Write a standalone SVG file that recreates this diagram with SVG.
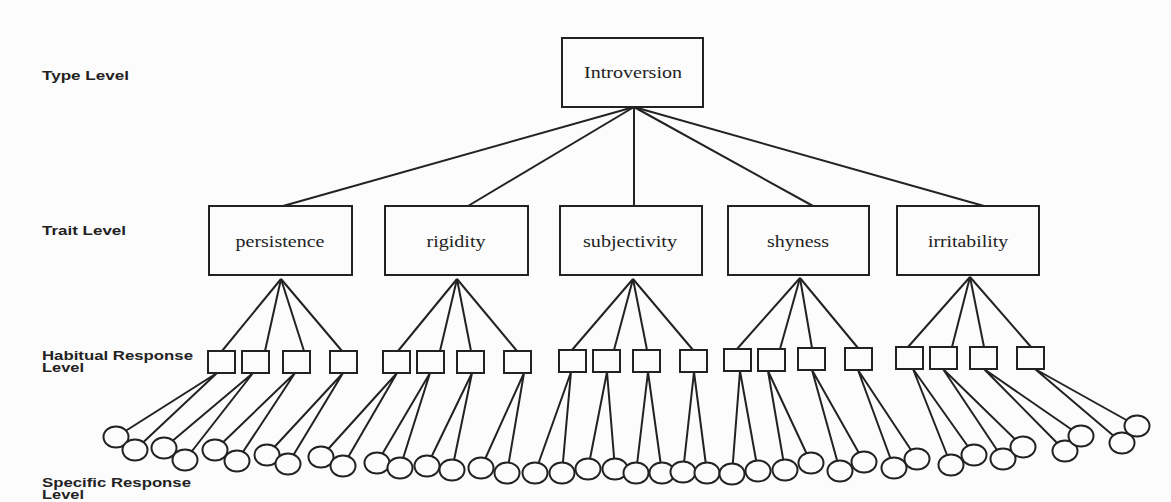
<svg xmlns="http://www.w3.org/2000/svg" width="1171" height="502" viewBox="0 0 1171 502">
<style>
.bg{fill:#fcfcfc}
.box{fill:#fcfcfc;stroke:#222;stroke-width:2}
.sq{fill:#fcfcfc;stroke:#222;stroke-width:2}
.cir{fill:#fcfcfc;stroke:#222;stroke-width:2}
.ln{stroke:#222;stroke-width:2;fill:none}
.lbl{font-family:"Liberation Sans",Arial,sans-serif;font-weight:bold;font-size:12px;fill:#222}
.nt{font-family:"Liberation Serif","Times New Roman",serif;font-size:17px;fill:#222;text-anchor:middle}
</style>
<rect class="bg" x="0" y="0" width="1171" height="502"/>
<g id="level-labels">
<text class="lbl" x="42" y="80" textLength="87" lengthAdjust="spacingAndGlyphs">Type Level</text>
<text class="lbl" x="42" y="235" textLength="84" lengthAdjust="spacingAndGlyphs">Trait Level</text>
<text class="lbl" x="42" y="360" textLength="151" lengthAdjust="spacingAndGlyphs">Habitual Response</text>
<text class="lbl" x="42" y="372" textLength="42" lengthAdjust="spacingAndGlyphs">Level</text>
<text class="lbl" x="42" y="487" textLength="149" lengthAdjust="spacingAndGlyphs">Specific Response</text>
<text class="lbl" x="42" y="499" textLength="42" lengthAdjust="spacingAndGlyphs">Level</text>
</g>
<g id="connectors" class="ln">
<line x1="634" y1="107" x2="283" y2="206"/>
<line x1="634" y1="107" x2="468" y2="206"/>
<line x1="634" y1="107" x2="634" y2="206"/>
<line x1="634" y1="107" x2="813" y2="206"/>
<line x1="634" y1="107" x2="984" y2="206"/>
<line x1="281" y1="279" x2="222" y2="351"/>
<line x1="281" y1="279" x2="265" y2="351"/>
<line x1="281" y1="279" x2="304" y2="351"/>
<line x1="281" y1="279" x2="342" y2="351"/>
<line x1="457" y1="279" x2="398" y2="351"/>
<line x1="457" y1="279" x2="440" y2="351"/>
<line x1="457" y1="279" x2="471" y2="351"/>
<line x1="457" y1="279" x2="517" y2="351"/>
<line x1="633" y1="279" x2="572" y2="350"/>
<line x1="633" y1="279" x2="614" y2="350"/>
<line x1="633" y1="279" x2="647" y2="350"/>
<line x1="633" y1="279" x2="693" y2="350"/>
<line x1="800" y1="278" x2="737" y2="349"/>
<line x1="800" y1="278" x2="780" y2="349"/>
<line x1="800" y1="278" x2="812" y2="348"/>
<line x1="800" y1="278" x2="858" y2="348"/>
<line x1="970" y1="277" x2="908" y2="347"/>
<line x1="970" y1="277" x2="952" y2="347"/>
<line x1="970" y1="277" x2="984" y2="347"/>
<line x1="970" y1="277" x2="1031" y2="347"/>
<path d="M217 373L116 437M217 373L135 450M253 373L164 448M253 373L185 460M295 373L215 450M295 373L237 461M343 373L267 455M343 373L288 464M397 373L321 457M397 373L343 466M430 373L377 463M430 373L400 468M472 373L427 466M472 373L452 470M524 373L481 468M524 373L507 473M571 372L535 473M571 372L562 473M607 372L588 469M607 372L615 469M648 372L636 473M648 372L662 473M694 372L683 472M694 372L707 473M740 371L732 474M740 371L758 471M768 371L785 470M768 371L811 463M812 370L840 471M812 370L864 462M858 370L894 468M858 370L917 459M913 369L951 465M913 369L974 455M943 369L1003 459M943 369L1023 447M984 369L1065 451M984 369L1081 436M1035 369L1122 443M1035 369L1137 426"/>
</g>
<g id="introversion"><rect class="box" x="562" y="38" width="141" height="69"/><text class="nt" x="633" y="78" textLength="98" lengthAdjust="spacingAndGlyphs">Introversion</text></g>
<g id="persistence"><rect class="box" x="209" y="206" width="143" height="69"/><text class="nt" x="280" y="247" textLength="89" lengthAdjust="spacingAndGlyphs">persistence</text></g>
<g id="rigidity"><rect class="box" x="385" y="206" width="143" height="69"/><text class="nt" x="456" y="247" textLength="59" lengthAdjust="spacingAndGlyphs">rigidity</text></g>
<g id="subjectivity"><rect class="box" x="560" y="206" width="142" height="69"/><text class="nt" x="630" y="247" textLength="94" lengthAdjust="spacingAndGlyphs">subjectivity</text></g>
<g id="shyness"><rect class="box" x="728" y="206" width="141" height="69"/><text class="nt" x="798" y="247" textLength="62" lengthAdjust="spacingAndGlyphs">shyness</text></g>
<g id="irritability"><rect class="box" x="897" y="206" width="142" height="69"/><text class="nt" x="968" y="247" textLength="80" lengthAdjust="spacingAndGlyphs">irritability</text></g>
<g id="habitual-responses">
<rect id="h1" class="sq" x="208" y="351" width="27" height="22"/>
<rect id="h2" class="sq" x="242" y="351" width="27" height="22"/>
<rect id="h3" class="sq" x="283" y="351" width="27" height="22"/>
<rect id="h4" class="sq" x="330" y="351" width="27" height="22"/>
<rect id="h5" class="sq" x="383" y="351" width="27" height="22"/>
<rect id="h6" class="sq" x="417" y="351" width="27" height="22"/>
<rect id="h7" class="sq" x="457" y="351" width="27" height="22"/>
<rect id="h8" class="sq" x="504" y="351" width="27" height="22"/>
<rect id="h9" class="sq" x="559" y="350" width="27" height="22"/>
<rect id="h10" class="sq" x="593" y="350" width="27" height="22"/>
<rect id="h11" class="sq" x="633" y="350" width="27" height="22"/>
<rect id="h12" class="sq" x="680" y="350" width="27" height="22"/>
<rect id="h13" class="sq" x="724" y="349" width="27" height="22"/>
<rect id="h14" class="sq" x="758" y="349" width="27" height="22"/>
<rect id="h15" class="sq" x="798" y="348" width="27" height="22"/>
<rect id="h16" class="sq" x="845" y="348" width="27" height="22"/>
<rect id="h17" class="sq" x="896" y="347" width="27" height="22"/>
<rect id="h18" class="sq" x="930" y="347" width="27" height="22"/>
<rect id="h19" class="sq" x="970" y="347" width="27" height="22"/>
<rect id="h20" class="sq" x="1017" y="347" width="27" height="22"/>
</g>
<g id="specific-responses">
<ellipse class="cir" cx="116" cy="437" rx="12.5" ry="10.5"/>
<ellipse class="cir" cx="135" cy="450" rx="12.5" ry="10.5"/>
<ellipse class="cir" cx="164" cy="448" rx="12.5" ry="10.5"/>
<ellipse class="cir" cx="185" cy="460" rx="12.5" ry="10.5"/>
<ellipse class="cir" cx="215" cy="450" rx="12.5" ry="10.5"/>
<ellipse class="cir" cx="237" cy="461" rx="12.5" ry="10.5"/>
<ellipse class="cir" cx="267" cy="455" rx="12.5" ry="10.5"/>
<ellipse class="cir" cx="288" cy="464" rx="12.5" ry="10.5"/>
<ellipse class="cir" cx="321" cy="457" rx="12.5" ry="10.5"/>
<ellipse class="cir" cx="343" cy="466" rx="12.5" ry="10.5"/>
<ellipse class="cir" cx="377" cy="463" rx="12.5" ry="10.5"/>
<ellipse class="cir" cx="400" cy="468" rx="12.5" ry="10.5"/>
<ellipse class="cir" cx="427" cy="466" rx="12.5" ry="10.5"/>
<ellipse class="cir" cx="452" cy="470" rx="12.5" ry="10.5"/>
<ellipse class="cir" cx="481" cy="468" rx="12.5" ry="10.5"/>
<ellipse class="cir" cx="507" cy="473" rx="12.5" ry="10.5"/>
<ellipse class="cir" cx="535" cy="473" rx="12.5" ry="10.5"/>
<ellipse class="cir" cx="562" cy="473" rx="12.5" ry="10.5"/>
<ellipse class="cir" cx="588" cy="469" rx="12.5" ry="10.5"/>
<ellipse class="cir" cx="615" cy="469" rx="12.5" ry="10.5"/>
<ellipse class="cir" cx="636" cy="473" rx="12.5" ry="10.5"/>
<ellipse class="cir" cx="662" cy="473" rx="12.5" ry="10.5"/>
<ellipse class="cir" cx="683" cy="472" rx="12.5" ry="10.5"/>
<ellipse class="cir" cx="707" cy="473" rx="12.5" ry="10.5"/>
<ellipse class="cir" cx="732" cy="474" rx="12.5" ry="10.5"/>
<ellipse class="cir" cx="758" cy="471" rx="12.5" ry="10.5"/>
<ellipse class="cir" cx="785" cy="470" rx="12.5" ry="10.5"/>
<ellipse class="cir" cx="811" cy="463" rx="12.5" ry="10.5"/>
<ellipse class="cir" cx="840" cy="471" rx="12.5" ry="10.5"/>
<ellipse class="cir" cx="864" cy="462" rx="12.5" ry="10.5"/>
<ellipse class="cir" cx="894" cy="468" rx="12.5" ry="10.5"/>
<ellipse class="cir" cx="917" cy="459" rx="12.5" ry="10.5"/>
<ellipse class="cir" cx="951" cy="465" rx="12.5" ry="10.5"/>
<ellipse class="cir" cx="974" cy="455" rx="12.5" ry="10.5"/>
<ellipse class="cir" cx="1003" cy="459" rx="12.5" ry="10.5"/>
<ellipse class="cir" cx="1023" cy="447" rx="12.5" ry="10.5"/>
<ellipse class="cir" cx="1065" cy="451" rx="12.5" ry="10.5"/>
<ellipse class="cir" cx="1081" cy="436" rx="12.5" ry="10.5"/>
<ellipse class="cir" cx="1122" cy="443" rx="12.5" ry="10.5"/>
<ellipse class="cir" cx="1137" cy="426" rx="12.5" ry="10.5"/>
</g>
</svg>
